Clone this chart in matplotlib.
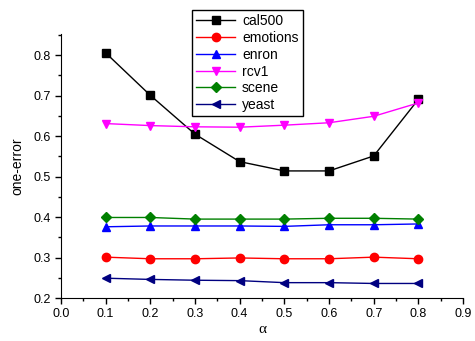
import matplotlib
matplotlib.use("Agg")
import matplotlib.pyplot as plt
from matplotlib.ticker import MultipleLocator

alpha = [0.1, 0.2, 0.3, 0.4, 0.5, 0.6, 0.7, 0.8]
cal500 = [0.806, 0.701, 0.605, 0.537, 0.514, 0.514, 0.551, 0.691]
emotions = [0.301, 0.297, 0.297, 0.299, 0.297, 0.297, 0.301, 0.297]
enron = [0.376, 0.378, 0.378, 0.378, 0.377, 0.381, 0.381, 0.383]
rcv1 = [0.631, 0.626, 0.623, 0.622, 0.627, 0.633, 0.649, 0.682]
scene = [0.399, 0.399, 0.395, 0.395, 0.395, 0.397, 0.397, 0.395]
yeast = [0.249, 0.246, 0.244, 0.243, 0.238, 0.238, 0.236, 0.236]

plt.rcParams['font.family'] = ['Liberation Sans', 'DejaVu Sans']

fig = plt.figure(figsize=(4.75, 3.41), dpi=100)
ax = fig.add_axes([0.128, 0.126, 0.847, 0.774])

series = [
    ("cal500", cal500, "black", "s"),
    ("emotions", emotions, "red", "o"),
    ("enron", enron, "blue", "^"),
    ("rcv1", rcv1, "magenta", "v"),
    ("scene", scene, "green", "D"),
    ("yeast", yeast, "navy", "<"),
]
for name, vals, col, mk in series:
    ax.plot(alpha, vals, color=col, marker=mk, markersize=6 if mk != "D" else 5,
            linewidth=1, label=name)

ax.set_xlim(0.0, 0.9)
ax.set_ylim(0.2, 0.852)
ax.xaxis.set_major_locator(MultipleLocator(0.1))
ax.xaxis.set_minor_locator(MultipleLocator(0.05))
ax.yaxis.set_major_locator(MultipleLocator(0.1))
ax.yaxis.set_minor_locator(MultipleLocator(0.05))
ax.xaxis.set_major_formatter(plt.FuncFormatter(lambda v, p: f"{v:.1f}"))
ax.yaxis.set_major_formatter(plt.FuncFormatter(lambda v, p: f"{v:.1f}"))
ax.spines['top'].set_visible(False)
ax.spines['right'].set_visible(False)
ax.tick_params(which='major', direction='out', length=4, width=1, labelsize=9)
ax.tick_params(which='minor', direction='out', length=2, width=1)

ax.set_ylabel("one-error", fontsize=10, labelpad=6)
ax.set_xlabel("α", fontsize=11, family=['Liberation Serif', 'DejaVu Serif'],
              labelpad=2)

leg = ax.legend(loc='upper left', bbox_to_anchor=(0.326, 1.091), fontsize=10,
                frameon=True, fancybox=False, edgecolor='black', framealpha=1,
                handlelength=2.8, labelspacing=0.2, borderpad=0.3,
                handletextpad=0.5, borderaxespad=0)
leg.get_frame().set_linewidth(1)

fig.savefig("out.png", dpi=100)
